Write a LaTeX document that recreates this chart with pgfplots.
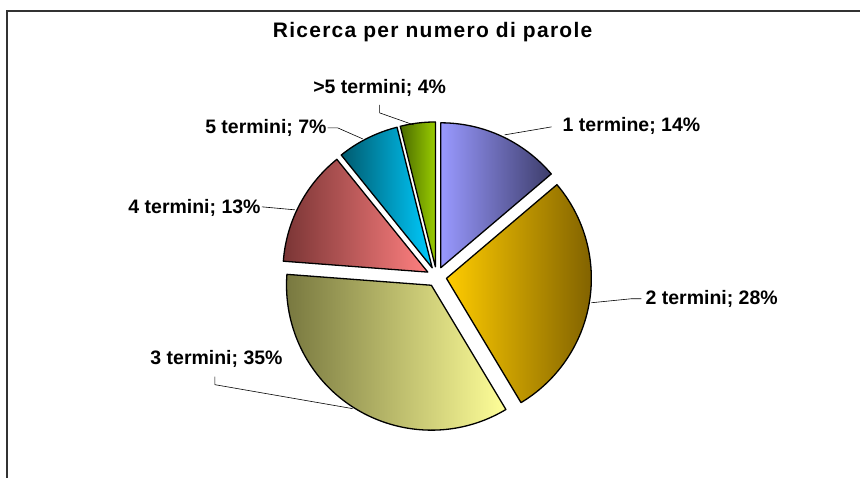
\documentclass[border=0pt]{standalone}
\usepackage{fontspec}
\setmainfont{Liberation Sans}
\usepackage{pgfplots}
\usepackage{pgfplotstable}
\pgfplotsset{compat=1.18}

% quote per numero di termini (percentuali)
\pgfplotstableread[col sep=comma]{
label,value
1 termine,13.8
2 termini,27.6
3 termini,34.8
4 termini,13.0
5 termini,6.9
>5 termini,3.9
}\piedata

\definecolor{pieL0}{HTML}{9999FF}\definecolor{pieR0}{HTML}{3D3D6B}
\definecolor{pieL1}{HTML}{FFCC00}\definecolor{pieR1}{HTML}{7A5C00}
\definecolor{pieL2}{HTML}{77773F}\definecolor{pieR2}{HTML}{FFFF99}
\definecolor{pieL3}{HTML}{7A3535}\definecolor{pieR3}{HTML}{FF8080}
\definecolor{pieL4}{HTML}{005A6E}\definecolor{pieR4}{HTML}{00CCFF}
\definecolor{pieL5}{HTML}{4A6A00}\definecolor{pieR5}{HTML}{99CC00}

\begin{document}
\begin{tikzpicture}
\gdef\cum{0}
\foreach \i in {0,...,5}{
  \pgfplotstablegetelem{\i}{value}\of\piedata
  \let\val\pgfplotsretval
  \pgfmathsetmacro{\sa}{90-3.6*\cum}
  \pgfmathsetmacro{\sb}{90-3.6*(\cum+\val)}
  \pgfmathsetmacro{\sm}{(\sa+\sb)/2}
  \pgfmathsetmacro{\sx}{437+10*cos(\sm)}
  \pgfmathsetmacro{\sy}{201+10*sin(\sm)}
  \expandafter\xdef\csname pieA\i\endcsname{\sa}
  \expandafter\xdef\csname pieB\i\endcsname{\sb}
  \expandafter\xdef\csname pieX\i\endcsname{\sx}
  \expandafter\xdef\csname pieY\i\endcsname{\sy}
  \pgfmathsetmacro{\newcum}{\cum+\val}
  \xdef\cum{\newcum}
}
\begin{axis}[
  hide axis, scale only axis,
  width=861bp, height=478bp,
  xmin=0, xmax=861, ymin=0, ymax=478,
  enlargelimits=false, clip=false]
\path (axis cs:0,0) rectangle (axis cs:861,478);
% cornice
\draw[line width=1.5bp, black!80] (axis cs:7,0) -- (axis cs:7,467) -- (axis cs:861,467);

\pgfplotsinvokeforeach{0,...,5}{
  \draw[left color=pieL#1, right color=pieR#1, draw=black, line width=1.3bp, line join=round]
    (axis cs:\csname pieX#1\endcsname,\csname pieY#1\endcsname)
    -- ++(\csname pieA#1\endcsname:145bp)
    arc[start angle=\csname pieA#1\endcsname, end angle=\csname pieB#1\endcsname, radius=145bp]
    -- cycle;
}

% linee guida
\draw[line width=0.6bp] (axis cs:380,373) -- (axis cs:380,365) -- (axis cs:414,353);
\draw[line width=0.6bp] (axis cs:328,350) -- (axis cs:338,350) -- (axis cs:363,339);
\draw[line width=0.6bp] (axis cs:552,351) -- (axis cs:505,343);
\draw[line width=0.6bp] (axis cs:642,179) -- (axis cs:632,179) -- (axis cs:592,175);
\draw[line width=0.6bp] (axis cs:215,101) -- (axis cs:215,93) -- (axis cs:353,69);
\draw[line width=0.6bp] (axis cs:262,271) -- (axis cs:295,268);

\node[inner sep=0pt, font=\fontsize{21bp}{24bp}\selectfont\bfseries\addfontfeature{LetterSpace=6}]
  at (axis cs:433,446) {Ricerca per numero di parole};
\begin{scope}[font=\fontsize{19.5bp}{22bp}\selectfont\bfseries, inner sep=0pt]
\node at (axis cs:380,390) {>5 termini; 4\%};
\node[anchor=east] at (axis cs:327,350) {5 termini; 7\%};
\node[anchor=west] at (axis cs:563,352) {1 termine; 14\%};
\node[anchor=east] at (axis cs:261,270) {4 termini; 13\%};
\node[anchor=west] at (axis cs:646,179) {2 termini; 28\%};
\node[anchor=east] at (axis cs:283,119) {3 termini; 35\%};
\end{scope}
\end{axis}
\end{tikzpicture}
\end{document}
